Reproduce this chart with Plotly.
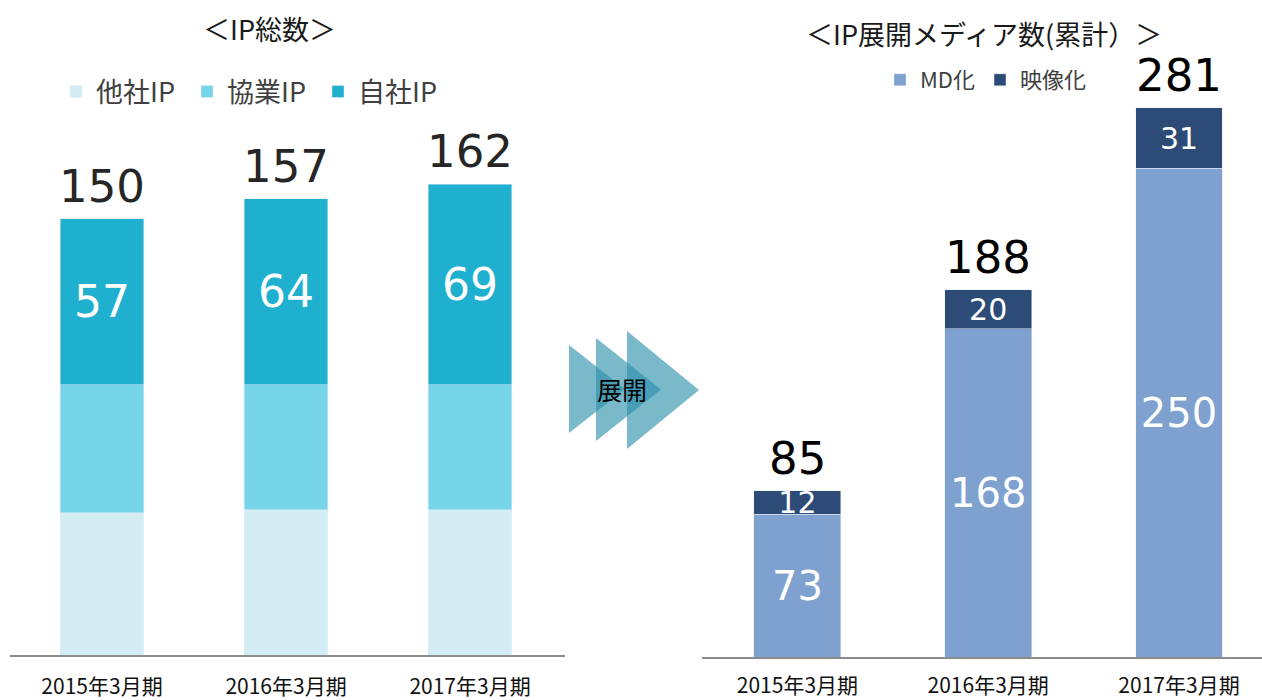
import plotly.graph_objects as go

# ---- data ----
periods = ["2015年3月期", "2016年3月期", "2017年3月期"]
other_ip = [49, 50, 50]      # 他社IP
collab_ip = [44, 43, 43]     # 協業IP
own_ip = [57, 64, 69]        # 自社IP
ip_totals = [150, 157, 162]

md_counts = [73, 168, 250]   # MD化
video_counts = [12, 20, 31]  # 映像化
media_totals = [85, 188, 281]

title_left = "＜IP総数＞"
title_right = "＜IP展開メディア数(累計）＞"
arrow_label = "展開"

JP = "Noto Sans CJK JP"
NUM = "DejaVu Sans"

fig = go.Figure()

# left stacked bars
fig.add_trace(go.Bar(x=periods, y=other_ip, name="他社IP", marker_color="#D4EDF4",
                     xaxis="x", yaxis="y", legend="legend"))
fig.add_trace(go.Bar(x=periods, y=collab_ip, name="協業IP", marker_color="#77D5E9",
                     xaxis="x", yaxis="y", legend="legend"))
fig.add_trace(go.Bar(x=periods, y=own_ip, name="自社IP", marker_color="#1FAFCF",
                     xaxis="x", yaxis="y", legend="legend",
                     text=[str(v) for v in own_ip], textposition="inside",
                     insidetextanchor="middle", constraintext="none",
                     textfont=dict(family=NUM, size=44, color="white")))

# right stacked bars
fig.add_trace(go.Bar(x=periods, y=md_counts, name="MD化", marker_color="#7EA1CF",
                     xaxis="x2", yaxis="y2", legend="legend2",
                     text=[str(v) for v in md_counts], textposition="inside",
                     insidetextanchor="middle", constraintext="none",
                     textfont=dict(family=NUM, size=40, color="white")))
fig.add_trace(go.Bar(x=periods, y=video_counts, name="映像化", marker_color="#2C4B76",
                     xaxis="x2", yaxis="y2", legend="legend2",
                     text=[str(v) for v in video_counts], textposition="inside",
                     insidetextanchor="middle", constraintext="none",
                     textfont=dict(family=NUM, size=30, color="white")))

annotations = []
for p, t in zip(periods, ip_totals):
    annotations.append(dict(x=p, y=t, xref="x", yref="y", text=str(t), showarrow=False,
                            yanchor="bottom", yshift=4,
                            font=dict(family=NUM, size=45, color="#262626")))
for p, t in zip(periods, media_totals):
    annotations.append(dict(x=p, y=t, xref="x2", yref="y2", text=str(t), showarrow=False,
                            yanchor="bottom", yshift=4,
                            font=dict(family=NUM, size=45, color="#000000")))

annotations.append(dict(x=269 / 1262, y=1 - 28 / 700, xref="paper", yref="paper",
                        text=title_left, showarrow=False, xanchor="center", yanchor="middle",
                        font=dict(family=JP, size=27, color="#1a1a1a")))
annotations.append(dict(x=984 / 1262, y=1 - 33 / 700, xref="paper", yref="paper",
                        text=title_right, showarrow=False, xanchor="center", yanchor="middle",
                        font=dict(family=JP, size=27, color="#1a1a1a")))
annotations.append(dict(x=622 / 1262, y=1 - 389 / 700, xref="paper", yref="paper",
                        text=arrow_label, showarrow=False, xanchor="center", yanchor="middle",
                        font=dict(family=JP, size=25, color="#000000")))

def tri(x0, ytop, ybot, xtip):
    ym = (ytop + ybot) / 2
    pts = [(x0, ytop), (xtip, ym), (x0, ybot)]
    path = "M " + " L ".join(f"{x / 1262:.5f},{1 - y / 700:.5f}" for x, y in pts) + " Z"
    return dict(type="path", xref="paper", yref="paper", path=path,
                fillcolor="rgba(40,142,170,0.62)", line=dict(width=0), layer="below")

shapes = [tri(569, 345, 433, 625), tri(596, 338, 441, 661), tri(627, 331, 449, 699)]

fig.update_layout(
    width=1262, height=700,
    margin=dict(l=0, r=0, t=0, b=0, autoexpand=False),
    paper_bgcolor="white", plot_bgcolor="white",
    barmode="stack",
    showlegend=True,
    annotations=annotations,
    shapes=shapes,
    xaxis=dict(domain=[10 / 1262, 565 / 1262], range=[-0.5, 2.516], type="category",
               showline=True, linecolor="#8C8C8C", linewidth=2, showgrid=False,
               ticks="outside", ticklen=12, tickcolor="rgba(0,0,0,0)", automargin=False,
               tickfont=dict(family=JP, size=21, color="#111111"), anchor="y"),
    yaxis=dict(domain=[45 / 700, 1], range=[0, 225.3], visible=False, anchor="x",
               automargin=False),
    xaxis2=dict(domain=[702 / 1262, 1], range=[-0.5, 2.435], type="category",
                showline=True, linecolor="#8C8C8C", linewidth=2, showgrid=False,
                ticks="outside", ticklen=9, tickcolor="rgba(0,0,0,0)", automargin=False,
                tickfont=dict(family=JP, size=21, color="#111111"), anchor="y2"),
    yaxis2=dict(domain=[43 / 700, 1], range=[0, 336.2], visible=False, anchor="x2",
                automargin=False),
    bargap=0.545,
    legend=dict(orientation="h", x=56 / 1262, y=1 - 92 / 700, xanchor="left", yanchor="middle",
                traceorder="normal", font=dict(family=JP, size=27, color="#404040"),
                entrywidth=86, bgcolor="rgba(0,0,0,0)"),
    legend2=dict(orientation="h", x=880 / 1262, y=1 - 80 / 700, xanchor="left", yanchor="middle",
                 traceorder="normal", font=dict(family=JP, size=22, color="#404040"),
                 bgcolor="rgba(0,0,0,0)"),
)

fig.write_html("out.html", config={"displayModeBar": False},
               post_script="document.body.style.margin='0px';")
